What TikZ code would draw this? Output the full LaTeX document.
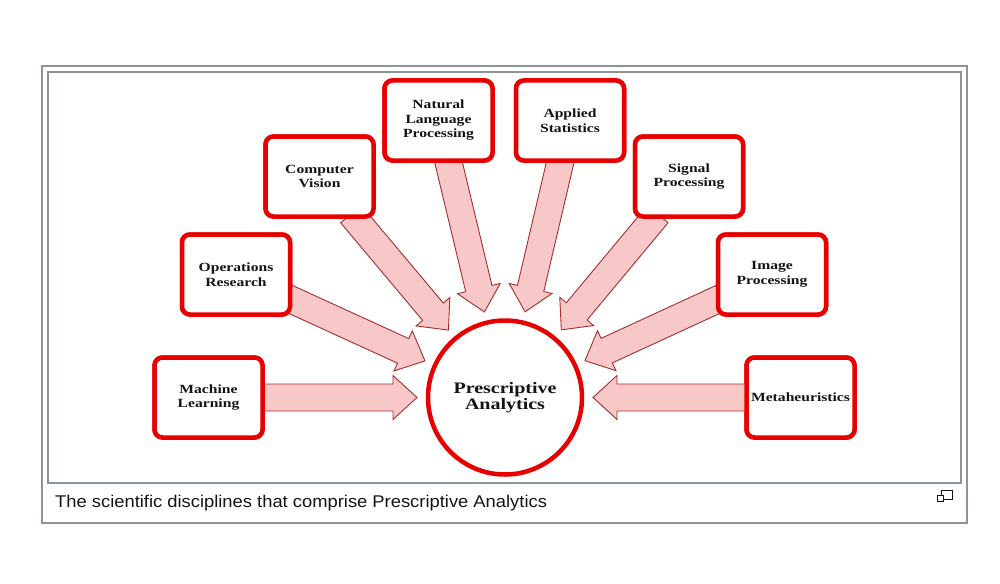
\documentclass[tikz,border=0pt]{standalone}
\usepackage{fontspec}
\setmainfont{Liberation Serif}
\newfontfamily\boxfont[FakeStretch=1.25]{Liberation Serif}
\newfontfamily\capfont[FakeStretch=1.08]{Liberation Sans}
\usetikzlibrary{calc}
\definecolor{boxred}{RGB}{232,0,0}
\definecolor{arrfill}{RGB}{248,200,200}
\definecolor{arrline}{RGB}{165,45,45}
\definecolor{framegray}{RGB}{140,147,155}
\definecolor{txt}{RGB}{20,20,20}
\tikzset{
  discbox/.style={draw=boxred, line width=4.5pt, rounded corners=8pt, fill=white,
    minimum width=108pt, minimum height=80pt, align=center, text=txt,
    font=\boxfont\bfseries\fontsize{12.5}{14.5}\selectfont, inner sep=0pt},
  hub/.style={circle, draw=boxred, line width=4.5pt, fill=white, minimum size=154pt,
    align=center, text=txt, font=\boxfont\bfseries\fontsize{16}{16.5}\selectfont, inner sep=0pt},
  blockarr/.style={fill=arrfill, draw=arrline, line width=0.9pt, line join=miter},
  frame/.style={draw=framegray, line width=1.3pt},
}
\newcommand{\discarrow}[1]{%
  \path (#1) -- (PA) coordinate[pos=0] (#1s);
  \coordinate (#1t) at ($(PA.center)!88pt!(#1s)$);
  \draw[blockarr] let \p1=(#1s), \p2=(#1t), \n1={atan2(\y2-\y1,\x2-\x1)} in
    ($(\p1)+(\n1+180:6pt)+(\n1+90:13.5pt)$)
    -- ($(\p2)+(\n1+180:24pt)+(\n1+90:13.5pt)$)
    -- ($(\p2)+(\n1+180:24pt)+(\n1+90:22pt)$)
    -- (\p2)
    -- ($(\p2)+(\n1+180:24pt)+(\n1-90:22pt)$)
    -- ($(\p2)+(\n1+180:24pt)+(\n1-90:13.5pt)$)
    -- ($(\p1)+(\n1+180:6pt)+(\n1-90:13.5pt)$) -- cycle;
}
\begin{document}
\begin{tikzpicture}[x=1pt,y=1pt]
\path[use as bounding box, fill=white] (0,0) rectangle (1000,-583);
% frames
\draw[frame] (42,-66) rectangle (967,-523);
\draw[frame] (48,-72) rectangle (961,-483);
% hub and boxes (positions)
\node[hub] (PA) at (505,-397.5) {Prescriptive\\Analytics};
\node[discbox] (ML) at (208.5,-397.5) {Machine\\Learning};
\node[discbox] (OR) at (236,-274.5) {Operations\\Research};
\node[discbox] (CV) at (319.5,-176.5) {Computer\\Vision};
\node[discbox] (NLP) at (438.5,-120.5) {Natural\\Language\\Processing};
\node[discbox] (AS) at (570,-120.5) {Applied\\Statistics};
\node[discbox] (SP) at (689,-176.5) {Signal\\Processing};
\node[discbox] (IP) at (772,-274.5) {Image\\Processing};
\node[discbox] (MH) at (800.5,-397.5) {Metaheuristics};
% arrows
\discarrow{ML}\discarrow{OR}\discarrow{CV}\discarrow{NLP}
\discarrow{AS}\discarrow{SP}\discarrow{IP}\discarrow{MH}
% redraw boxes on top
\foreach \b/\x/\y/\t in {ML/208.5/-397.5/{Machine\\Learning}, OR/236/-274.5/{Operations\\Research},
  CV/319.5/-176.5/{Computer\\Vision}, NLP/438.5/-120.5/{Natural\\Language\\Processing},
  AS/570/-120.5/{Applied\\Statistics}, SP/689/-176.5/{Signal\\Processing},
  IP/772/-274.5/{Image\\Processing}, MH/800.5/-397.5/{Metaheuristics}}
  \node[discbox] (\b top) at (\x,\y) {\t};
% caption
\node[anchor=base west, inner sep=0pt, text=txt, font=\capfont\fontsize{17}{18}\selectfont] (cap) at (55,-507) {The scientific disciplines that comprise Prescriptive Analytics};
% magnify icon
\draw[line width=1pt, draw=txt] (941,-490) rectangle (952,-499);
\draw[line width=1pt, draw=txt, fill=white] (937,-495) rectangle (943,-501);
\end{tikzpicture}
\end{document}
